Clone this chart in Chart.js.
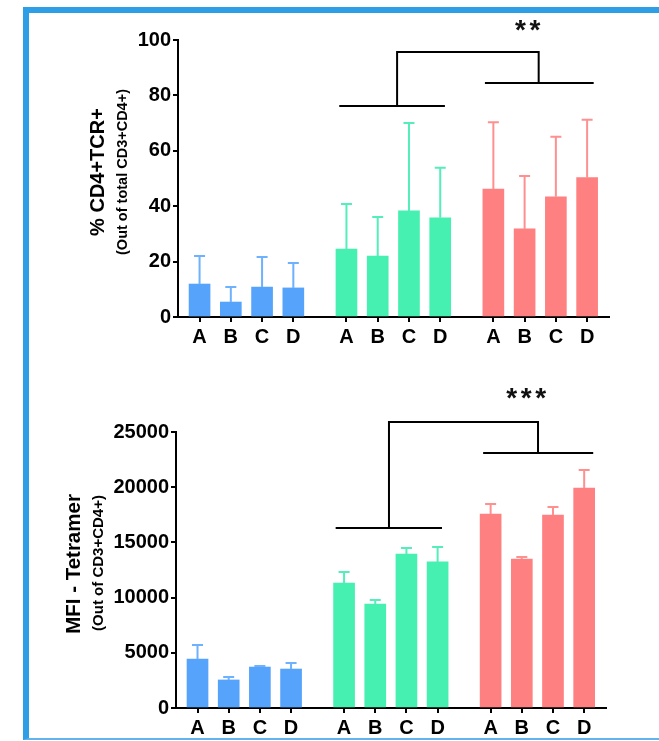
<!DOCTYPE html>
<html><head><meta charset="utf-8">
<script src="https://cdn.jsdelivr.net/npm/chart.js@4"></script>
<style>
html,body{margin:0;padding:0;background:#fff;}
body{width:659px;height:741px;position:relative;overflow:hidden;}
#frame{position:absolute;left:23px;top:7px;width:700px;height:733px;box-sizing:border-box;border-left:6px solid #2E9FE6;border-top:6px solid #2E9FE6;border-bottom:2px solid #5DB6EE;}
canvas{position:absolute;left:0;}
#c1{top:0;}
#c2{top:370px;}
</style></head><body>
<div id="frame"></div>
<canvas id="c1" width="659" height="370"></canvas>
<canvas id="c2" width="659" height="371"></canvas>
<script>
// ---- data ----
const tickPositions = [0, 1, 2, 3, 4.7, 5.7, 6.7, 7.7, 9.4, 10.4, 11.4, 12.4];
const tickLabels = ['A', 'B', 'C', 'D', 'A', 'B', 'C', 'D', 'A', 'B', 'C', 'D'];
const groupColors = ['#55A3FB', '#45F0B0', '#FF8080'];
const errColors = ['#6DB1FF', '#55EDBB', '#FF9090'];

// Top: % CD4+TCR+
const topBlue = [11.9, 5.4, 10.8, 10.5];
const topBlueSD = [10.1, 5.4, 10.9, 9.0];
const topGreen = [24.5, 22.0, 38.3, 35.8];
const topGreenSD = [16.3, 14.1, 31.7, 18.1];
const topRed = [46.2, 31.8, 43.4, 50.3];
const topRedSD = [24.1, 19.1, 21.7, 20.9];
const topYTicks = [0, 100, 20];
// bracket lines: [xStart, xEnd, y]
const topGroupLines = [[4.47, 7.85, 76.2], [9.13, 12.61, 84.5]];
const topConnector = [6.32, 10.85, 95.7];
const topStars = [10.5, 105, '**'];

// Bottom: MFI - Tetramer
const botBlue = [4440, 2540, 3710, 3530];
const botBlueSD = [1270, 270, 90, 550];
const botGreen = [11320, 9420, 13950, 13230];
const botGreenSD = [1000, 360, 540, 1350];
const botRed = [17570, 13500, 17480, 19930];
const botRedSD = [910, 180, 730, 1630];
const botYTicks = [0, 25000, 5000];
const botGroupLines = [[4.43, 7.84, 16300], [9.16, 12.69, 23100]];
const botConnector = [6.14, 10.92, 25900];
const botStars = [10.54, 28440, '***'];

const FONT = "'Liberation Sans', Arial, sans-serif";

function makeDatasets(means, sds) {
  return means.map((m, g) => ({
    data: m.map((v, i) => ({x: tickPositions[g * 4 + i], y: v})),
    sd: sds[g],
    backgroundColor: groupColors[g],
    errColor: errColors[g],
    borderWidth: 0,
    grouped: false,
    categoryPercentage: 1,
    barPercentage: 1,
    maxBarThickness: 21
  }));
}

const errorBars = {
  id: 'errorBars',
  afterDatasetsDraw(chart) {
    const ctx = chart.ctx, ys = chart.scales.y;
    chart.data.datasets.forEach((ds, di) => {
      const meta = chart.getDatasetMeta(di);
      meta.data.forEach((bar, i) => {
        const top = ys.getPixelForValue(ds.data[i].y + ds.sd[i]);
        ctx.save();
        ctx.strokeStyle = ds.errColor;
        ctx.lineWidth = 2;
        ctx.beginPath();
        ctx.moveTo(bar.x, bar.y);
        ctx.lineTo(bar.x, top);
        ctx.moveTo(bar.x - 5.5, top);
        ctx.lineTo(bar.x + 5.5, top);
        ctx.stroke();
        ctx.restore();
      });
    });
  }
};

function annotations(lines, conn, stars, titles) {
  return {
    id: 'annot',
    afterDraw(chart) {
      const ctx = chart.ctx, xs = chart.scales.x, ys = chart.scales.y;
      const X = v => xs.getPixelForValue(v), Y = v => ys.getPixelForValue(v);
      ctx.save();
      ctx.strokeStyle = '#000';
      ctx.lineWidth = 2;
      ctx.beginPath();
      lines.forEach(l => { ctx.moveTo(X(l[0]), Y(l[2])); ctx.lineTo(X(l[1]), Y(l[2])); });
      ctx.moveTo(X(conn[0]), Y(lines[0][2]));
      ctx.lineTo(X(conn[0]), Y(conn[2]));
      ctx.lineTo(X(conn[1]), Y(conn[2]));
      ctx.lineTo(X(conn[1]), Y(lines[1][2]));
      ctx.stroke();
      // stars
      ctx.fillStyle = '#111';
      ctx.font = 'bold 28px ' + FONT;
      ctx.textAlign = 'center';
      ctx.textBaseline = 'middle';
      const n = stars[2].length, sp = 14.5;
      for (let k = 0; k < n; k++) {
        ctx.fillText('*', X(stars[0]) + (k - (n - 1) / 2) * sp, Y(stars[1]) + 5);
      }
      // titles
      ctx.fillStyle = '#000';
      titles.forEach(t => {
        ctx.save();
        ctx.translate(t.x, t.y);
        ctx.rotate(-Math.PI / 2);
        ctx.font = 'bold ' + t.size + 'px ' + FONT;
        ctx.fillText(t.text, 0, 0);
        ctx.restore();
      });
      ctx.restore();
    }
  };
}

function makeChart(id, means, sds, yt, axisW, xH, padTop, padRight, lines, conn, stars, titles) {
  return new Chart(document.getElementById(id), {
    type: 'bar',
    data: {datasets: makeDatasets(means, sds)},
    options: {
      responsive: false,
      animation: false,
      events: [],
      layout: {padding: {top: padTop, right: padRight, left: 0, bottom: 0}},
      plugins: {legend: {display: false}, tooltip: {enabled: false}},
      scales: {
        x: {
          type: 'linear',
          offset: false,
          min: -0.69, max: 13.1,
          afterBuildTicks: s => { s.ticks = tickPositions.map(v => ({value: v})); },
          afterFit: s => { s.height = xH; },
          ticks: {
            autoSkip: false, maxRotation: 0, padding: 3,
            color: '#000', font: {family: FONT, size: 20, weight: 'bold'},
            callback: (v, i) => tickLabels[i]
          },
          grid: {display: true, offset: false, drawOnChartArea: false, tickLength: 5, color: '#000', lineWidth: 2},
          border: {display: true, color: '#000', width: 2}
        },
        y: {
          min: yt[0], max: yt[1],
          afterFit: s => { s.width = axisW; },
          ticks: {stepSize: yt[2], padding: 2, color: '#000', font: {family: FONT, size: 20, weight: 'bold'},
            callback: v => String(v)},
          grid: {display: true, drawOnChartArea: false, tickLength: 5, color: '#000', lineWidth: 2},
          border: {display: true, color: '#000', width: 2}
        }
      }
    },
    plugins: [errorBars, annotations(lines, conn, stars, titles)]
  });
}

makeChart('c1', [topBlue, topGreen, topRed], [topBlueSD, topGreenSD, topRedSD], topYTicks,
  178, 53, 40, 50, topGroupLines, topConnector, topStars,
  [{text: '% CD4+TCR+', size: 20, x: 98, y: 172}, {text: '(Out of total CD3+CD4+)', size: 14.5, x: 123, y: 172}]);
makeChart('c2', [botBlue, botGreen, botRed], [botBlueSD, botGreenSD, botRedSD], botYTicks,
  176, 33, 62, 53, botGroupLines, botConnector, botStars,
  [{text: 'MFI - Tetramer', size: 20.5, x: 74, y: 194}, {text: '(Out of CD3+CD4+)', size: 15, x: 99, y: 193}]);
</script>
</body></html>
